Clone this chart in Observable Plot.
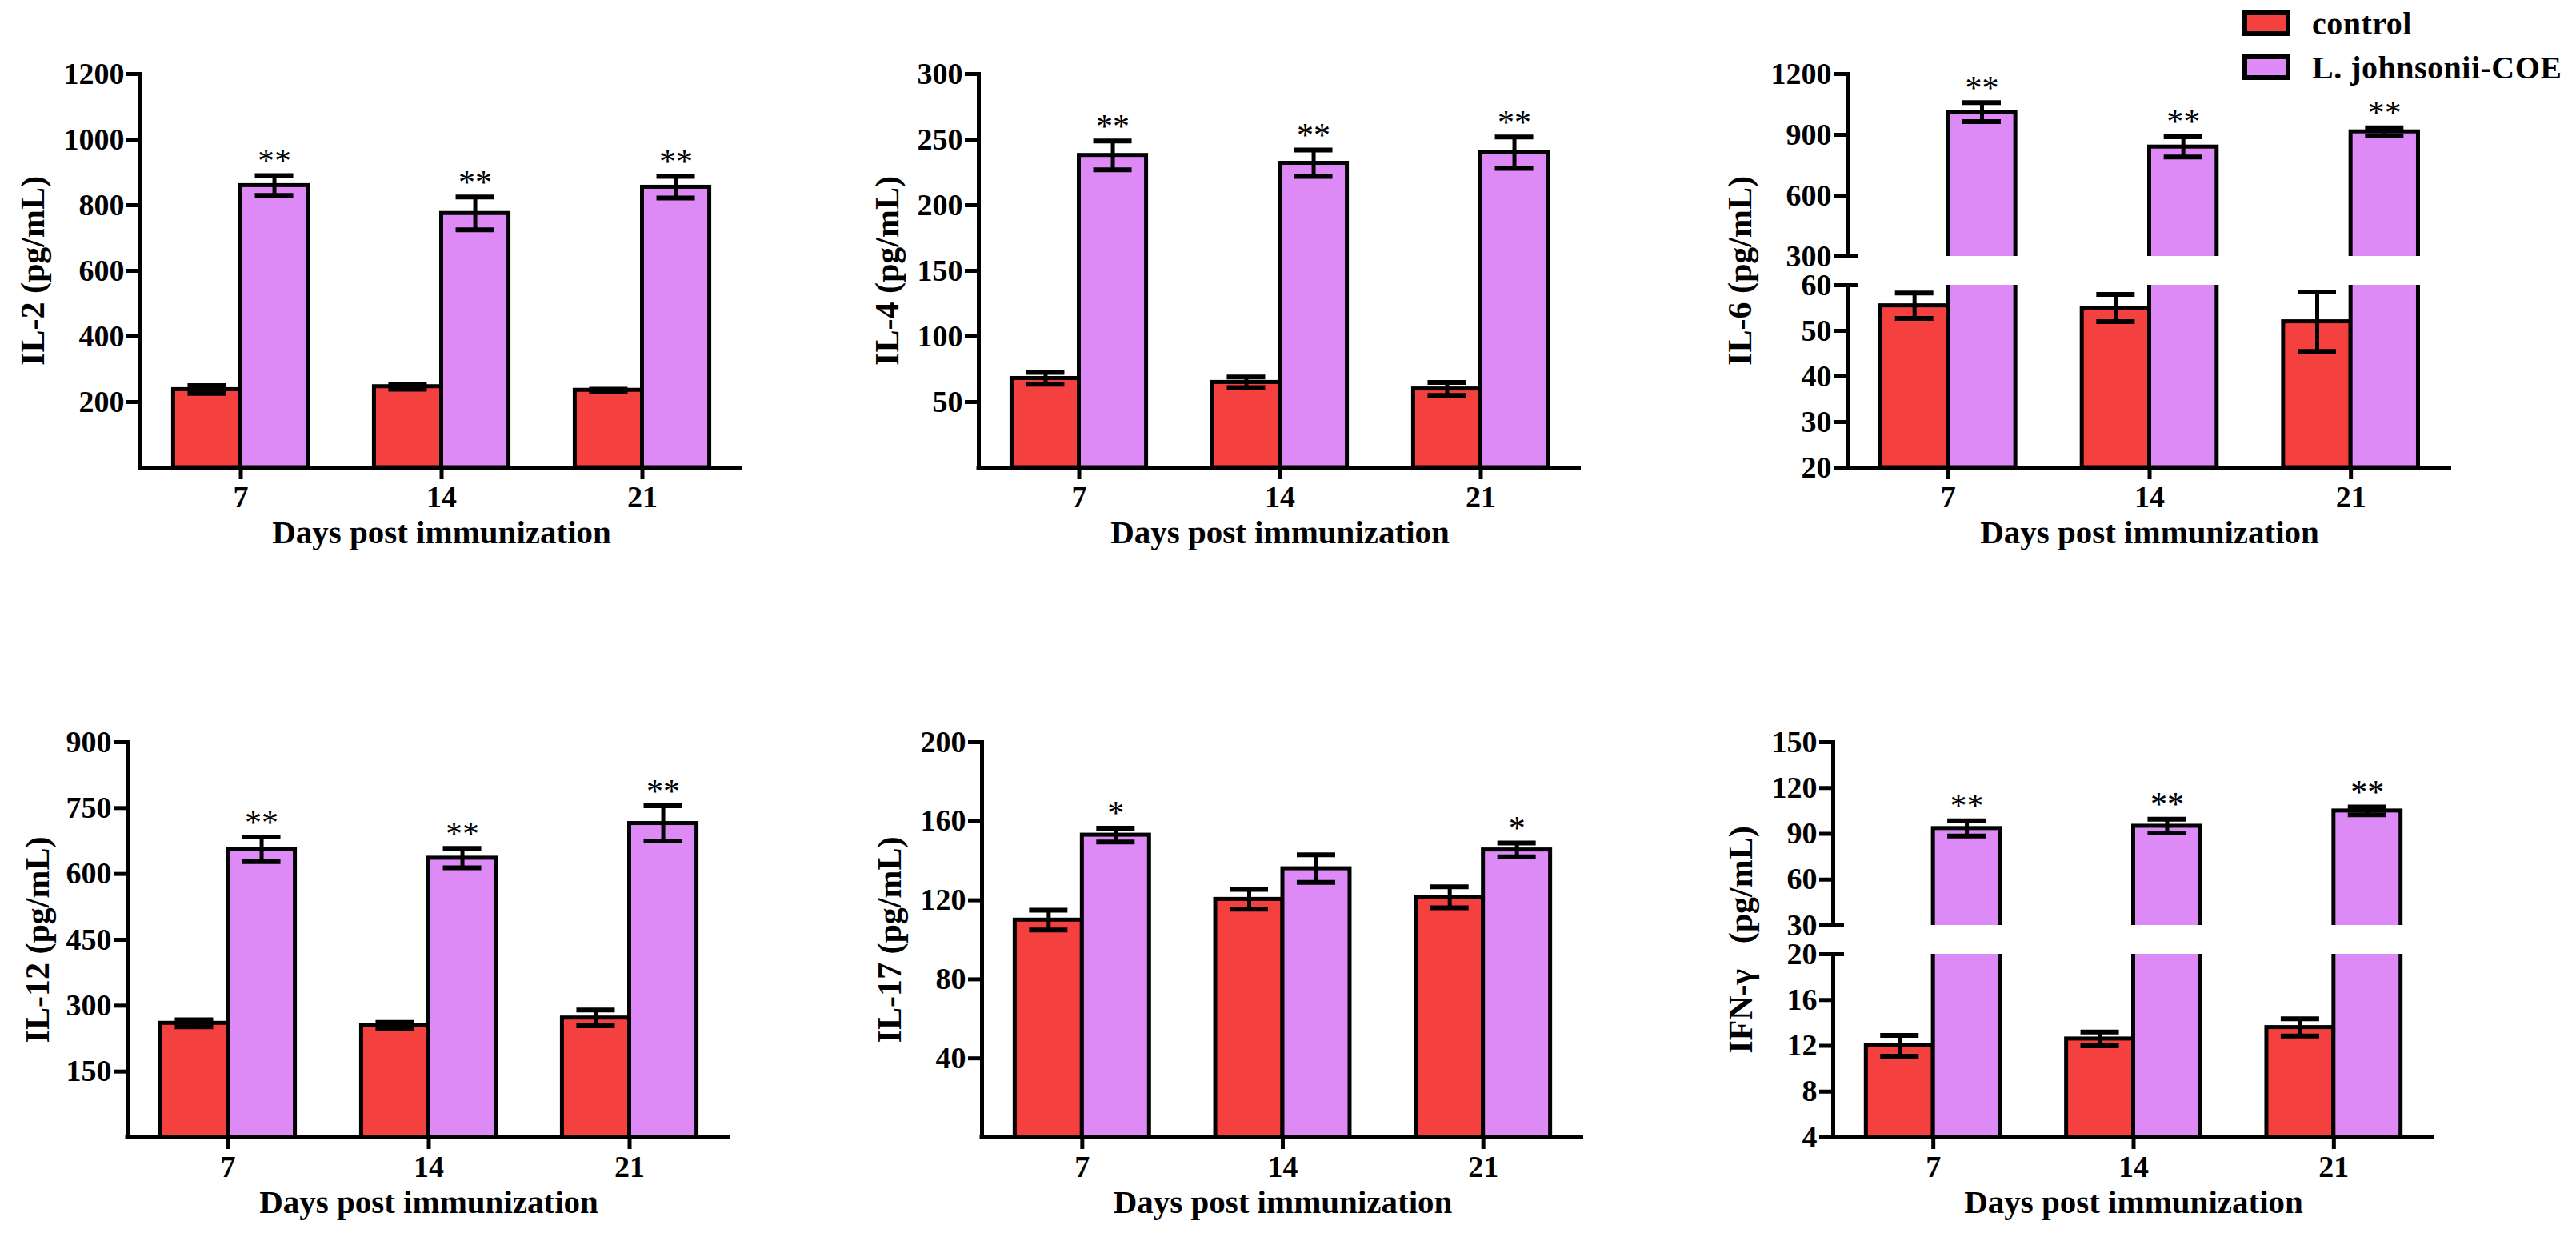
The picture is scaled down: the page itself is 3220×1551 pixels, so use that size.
<!doctype html>
<html>
<head>
<meta charset="utf-8">
<style>
  body { margin: 0; background: #fff; }
  #fig { position: relative; width: 3220px; height: 1551px; overflow: hidden; background: #fff;
         font-family: "Liberation Serif", "Times New Roman", serif; }
  .panel { position: absolute; }
  .swatch { position: absolute; width: 48px; height: 20px; border: 6px solid #000; }
  .key { position: absolute; font-weight: bold; font-size: 40px; line-height: 40px; white-space: nowrap; letter-spacing: 0.5px; }
</style>
</head>
<body>
<div id="fig"></div>
<script src="https://cdn.jsdelivr.net/npm/d3@7"></script>
<script src="https://cdn.jsdelivr.net/npm/@observablehq/plot@0.6"></script>
<script>
const days = ["7", "14", "21"];
const groups = ["control", "L. johnsonii-COE"];
const colors = ["#f54040", "#dd8af6"];
const xTitle = "Days post immunization";

// means and error bars
const il2Control = [238, 247, 236], il2ControlErr = [12, 8, 3];
const il2Coe = [860, 775, 855], il2CoeErr = [30, 50, 33];
const il2Stars = ["**", "**", "**"];
const il2Ticks = [200, 400, 600, 800, 1000, 1200];

const il4Control = [68, 65, 60], il4ControlErr = [4.5, 4, 5];
const il4Coe = [238, 232, 240], il4CoeErr = [11, 10, 12];
const il4Stars = ["**", "**", "**"];
const il4Ticks = [50, 100, 150, 200, 250, 300];

const il6Control = [55.5, 55, 52], il6ControlErr = [2.8, 3, 6.5];
const il6Coe = [1012, 840, 915], il6CoeErr = [47, 50, 20];
const il6Stars = ["**", "**", "**"];
const il6Ticks = [20, 30, 40, 50, 60, 300, 600, 900, 1200];

const il12Control = [260, 255, 272], il12ControlErr = [8, 7, 18];
const il12Coe = [656, 636, 715], il12CoeErr = [28, 22, 40];
const il12Stars = ["**", "**", "**"];
const il12Ticks = [150, 300, 450, 600, 750, 900];

const il17Control = [110, 120.5, 121.5], il17ControlErr = [5, 5, 5.3];
const il17Coe = [153, 136, 145.5], il17CoeErr = [3.5, 7, 3.5];
const il17Stars = ["*", "", "*"];
const il17Ticks = [40, 80, 120, 160, 200];

const ifnControl = [12, 12.6, 13.6], ifnControlErr = [0.9, 0.6, 0.75];
const ifnCoe = [93.5, 95, 105], ifnCoeErr = [5, 4.5, 2.5];
const ifnStars = ["**", "**", "**"];
const ifnTicks = [4, 8, 12, 16, 20, 30, 60, 90, 120, 150];

const panels = [
  {title: "IL-2 (pg/mL)", control: il2Control, controlErr: il2ControlErr, coe: il2Coe, coeErr: il2CoeErr, stars: il2Stars, ticks: il2Ticks, domain: [0, 1200]},
  {title: "IL-4 (pg/mL)", control: il4Control, controlErr: il4ControlErr, coe: il4Coe, coeErr: il4CoeErr, stars: il4Stars, ticks: il4Ticks, domain: [0, 300]},
  {title: "IL-6 (pg/mL)", control: il6Control, controlErr: il6ControlErr, coe: il6Coe, coeErr: il6CoeErr, stars: il6Stars, ticks: il6Ticks, domain: [20, 60, 300, 1200]},
  {title: "IL-12 (pg/mL)", control: il12Control, controlErr: il12ControlErr, coe: il12Coe, coeErr: il12CoeErr, stars: il12Stars, ticks: il12Ticks, domain: [0, 900]},
  {title: "IL-17 (pg/mL)", control: il17Control, controlErr: il17ControlErr, coe: il17Coe, coeErr: il17CoeErr, stars: il17Stars, ticks: il17Ticks, domain: [0, 200]},
  {title: "IFN-\u03b3   (pg/mL)", control: ifnControl, controlErr: ifnControlErr, coe: ifnCoe, coeErr: ifnCoeErr, stars: ifnStars, ticks: ifnTicks, domain: [4, 20, 30, 150]}
];

// frame boxes on the page (y axis x, right end, top, baseline) and y title offset
const boxes = [
  {left: 175, right: 928, top: 92, bottom: 584, titleOffset: 134},
  {left: 1223, right: 1976, top: 92, bottom: 584, titleOffset: 114},
  {left: 2309, right: 3064, top: 92, bottom: 584, titleOffset: 134},
  {left: 159, right: 912, top: 927, bottom: 1421, titleOffset: 112},
  {left: 1227, right: 1979, top: 927, bottom: 1421, titleOffset: 115},
  {left: 2291, right: 3042, top: 927, bottom: 1421, titleOffset: 115}
];

const mL = 170, mR = 20, mT = 60, mB = 128, gap = 36;

function panel(p, box) {
  const W = box.right - box.left, H = box.bottom - box.top;
  const bw = W / 3 * 0.67; // width of a pair of bars
  const ctrl = days.map((d, i) => ({day: d, v: p.control[i], e: p.controlErr[i]}));
  const coe = days.map((d, i) => ({day: d, v: p.coe[i], e: p.coeErr[i], mark: p.stars[i]}));
  const base = p.domain[0];
  const broken = p.domain.length > 2;
  const seg = (H - gap) / 2;
  const yRange = broken ? [mT + H, mT + H - seg, mT + seg, mT] : [mT + H, mT];
  const cap = 24;

  const errMarks = (data, side) => {
    const dx = side * bw / 4;
    const inL = side < 0 ? bw / 4 - cap : 3 * bw / 4 - cap;
    const inR = side < 0 ? 3 * bw / 4 - cap : bw / 4 - cap;
    return [
      Plot.ruleX(data, {x: "day", y1: d => d.v - d.e, y2: d => d.v + d.e, dx, strokeWidth: 5}),
      Plot.tickY(data, {x: "day", y: d => d.v + d.e, insetLeft: inL, insetRight: inR, strokeWidth: 6}),
      Plot.tickY(data, {x: "day", y: d => d.v - d.e, insetLeft: inL, insetRight: inR, strokeWidth: 6})
    ];
  };

  return Plot.plot({
    width: mL + W + mR,
    height: mT + H + mB,
    marginLeft: mL, marginRight: mR, marginTop: mT, marginBottom: mB,
    x: {domain: days, paddingInner: 0.33, paddingOuter: 0.165, round: false},
    y: {type: "linear", domain: p.domain, range: yRange},
    style: {fontFamily: "'Liberation Serif', 'Times New Roman', serif", fontWeight: "bold", color: "black", background: "white", overflow: "visible", maxWidth: "none"},
    marks: [
      Plot.frame({anchor: "left", strokeWidth: 5}),
      Plot.barY(ctrl, {x: "day", y1: base, y2: "v", fill: colors[0], stroke: "black", strokeWidth: 5, insetRight: bw / 2}),
      Plot.barY(coe, {x: "day", y1: base, y2: "v", fill: colors[1], stroke: "black", strokeWidth: 5, insetLeft: bw / 2}),
      broken ? Plot.barY([p.domain], {y1: d => d[1], y2: d => d[2], fill: "white", insetLeft: -30, insetRight: -30}) : null,
      ...errMarks(ctrl, -1),
      ...errMarks(coe, 1),
      Plot.text(coe, {x: "day", y: d => d.v + d.e, text: "mark", dx: bw / 4, dy: -18, fontSize: 42, fontWeight: "normal"}),
      Plot.ruleY([base], {strokeWidth: 5, insetLeft: -2.5}),
      Plot.axisY(p.ticks, {tickSize: 17, tickPadding: 3, strokeWidth: 5, fontSize: 38, label: null, tickFormat: d => String(d)}),
      broken ? Plot.axisY([p.domain[1], p.domain[2]], {tickSize: -14, tickFormat: () => "", strokeWidth: 5, label: null}) : null,
      Plot.axisX({tickSize: 15, tickPadding: 8, strokeWidth: 5, fontSize: 38, label: null}),
      Plot.text([p.title], {text: d => d, frameAnchor: "left", dx: -box.titleOffset, rotate: -90, textAnchor: "middle", fontSize: 42}),
      Plot.text([xTitle], {text: d => d, frameAnchor: "bottom", dy: 94, textAnchor: "middle", fontSize: 41})
    ]
  });
}

const fig = document.querySelector("#fig");
panels.forEach((p, i) => {
  const box = boxes[i];
  const div = document.createElement("div");
  div.className = "panel";
  div.style.left = (box.left - mL) + "px";
  div.style.top = (box.top - mT) + "px";
  div.append(panel(p, box));
  fig.append(div);
});

// legend
const legendTops = [13, 68];
groups.forEach((g, i) => {
  const sw = document.createElement("div");
  sw.className = "swatch";
  sw.style.left = "2803px";
  sw.style.top = legendTops[i] + "px";
  sw.style.background = colors[i];
  fig.append(sw);
  const t = document.createElement("div");
  t.className = "key";
  t.textContent = g;
  t.style.left = "2890px";
  t.style.top = (legendTops[i] - 3) + "px";
  fig.append(t);
});
</script>
</body>
</html>
